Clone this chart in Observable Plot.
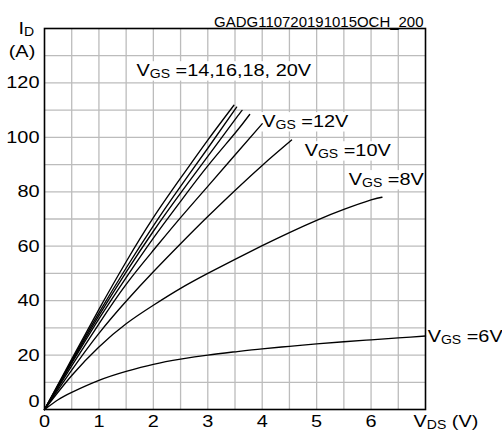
<!DOCTYPE html>
<html><head><meta charset="utf-8">
<script src="https://cdn.jsdelivr.net/npm/d3@7"></script>
<script src="https://cdn.jsdelivr.net/npm/@observablehq/plot@0.6"></script>
<style>body{margin:0;background:#fff;}</style>
</head><body><div id="chart"></div>
<script>
const chartTitle = "GADG110720191015OCH_200";
const xTickValues = [0, 1, 2, 3, 4, 5, 6];
const yTickValues = [20, 40, 60, 80, 100, 120];
const xGridValues = [0.5, 1, 1.5, 2, 2.5, 3, 3.5, 4, 4.5, 5, 5.5, 6, 6.5];
const yGridValues = [10, 20, 30, 40, 50, 60, 70, 80, 90, 100, 110, 120, 130];

// I_D (A) vs V_DS (V) for each V_GS
const vds6 = [0, 0.25, 0.5, 1, 1.5, 2, 2.5, 3, 3.5, 4, 4.5, 5, 5.5, 6, 6.5, 7];
const id6  = [0, 3.6, 6.3, 10.7, 14.0, 16.6, 18.5, 20.0, 21.2, 22.3, 23.2, 24.1, 24.9, 25.6, 26.3, 27.0];
const vds8 = [0, 0.5, 1, 1.5, 2, 2.5, 3, 3.5, 4, 4.5, 5, 5.5, 6, 6.2];
const id8  = [0, 12.5, 23, 31.5, 38.3, 44.5, 50, 55.2, 60.2, 65, 69.5, 73.5, 77, 78];
const vds10 = [0, 0.5, 1, 1.5, 2, 2.5, 3, 3.5, 4, 4.54];
const id10  = [0, 14.5, 28, 39.8, 50.6, 60.9, 70.9, 80.5, 89.7, 99];
const vds12 = [0, 0.5, 1, 1.5, 2, 2.5, 3, 3.5, 4];
const id12  = [0, 16, 31.5, 46, 58.5, 70.5, 82, 93.5, 105];
const vds14 = [0, 0.5, 1, 1.5, 2, 2.5, 3, 3.5, 3.77];
const id14  = [0, 17, 33.3, 48.5, 63, 76.5, 89.5, 101.5, 108.4];
const vds16 = [0, 0.5, 1, 1.5, 2, 2.5, 3, 3.5, 3.63];
const id16  = [0, 17.5, 34.5, 50.5, 65.5, 79.5, 93, 106.5, 109.9];
const vds18 = [0, 0.5, 1, 1.5, 2, 2.5, 3, 3.53];
const id18  = [0, 18, 35.5, 52, 67.5, 82, 96, 111.1];
const vds20 = [0, 0.5, 1, 1.5, 2, 2.5, 3, 3.48];
const id20  = [0, 18.5, 36.8, 54.3, 70.5, 85, 99, 111.8];

const seriesNames = ["6V", "8V", "10V", "12V", "14V", "16V", "18V", "20V"];
const seriesX = [vds6, vds8, vds10, vds12, vds14, vds16, vds18, vds20];
const seriesY = [id6, id8, id10, id12, id14, id16, id18, id20];

// curve labels (anchor in data units: V_DS, I_D)
const labelTexts = ["V_{GS} =14,16,18, 20V", "V_{GS} =12V", "V_{GS} =10V", "V_{GS} =8V", "V_{GS} =6V"];
const labelVds = [1.69, 4.0, 4.78, 5.59, 7.04];
const labelId  = [124.6, 105.9, 95.2, 84.6, 26.8];

const points = seriesNames.flatMap((name, k) =>
  seriesX[k].map((v, i) => ({series: name, vds: v, id: seriesY[k][i]})));
const labels = labelTexts.map((t, i) => ({text: t, vds: labelVds[i], id: labelId[i]}));

const chart = Plot.plot({
  width: 502, height: 432,
  marginLeft: 44, marginRight: 77, marginTop: 28, marginBottom: 23,
  x: {domain: [0, 7], axis: null},
  y: {domain: [0, 140], axis: null},
  style: {fontFamily: "'Liberation Sans', Arial, sans-serif", fontSize: "17px", color: "black", background: "white", overflow: "visible"},
  marks: [
    Plot.ruleX(xGridValues, {stroke: "#bcbcbc", strokeWidth: 1.3}),
    Plot.ruleY(yGridValues, {stroke: "#bcbcbc", strokeWidth: 1.3}),
    Plot.text(labels, {x: "vds", y: "id", text: "text", textAnchor: "start", fill: "black", fontSize: 17}),
    Plot.line(points, {x: "vds", y: "id", z: "series", stroke: "black", strokeWidth: 1.35, curve: "natural"}),
    Plot.frame({stroke: "black", strokeWidth: 1.6}),
    Plot.text(yTickValues, {x: 0, y: d => d, text: d => String(d), textAnchor: "end", dx: -5, fill: "black"}),
    Plot.text(["0"], {x: 0, y: 0, textAnchor: "end", dx: -5, dy: -8, fill: "black"}),
    Plot.text(xTickValues, {x: d => d, y: 0, text: d => String(d), dy: 12, fill: "black"}),
    Plot.text(["V_{DS} (V)"], {x: 7, y: 0, textAnchor: "start", dx: -12, dy: 12, fill: "black"}),
    Plot.text(["I_{D}"], {frameAnchor: "top-left", textAnchor: "start", dx: -26, dy: -6.5, fill: "black"}),
    Plot.text(["(A)"], {frameAnchor: "top-left", textAnchor: "middle", dx: -22.5, dy: 16, fill: "black"}),
    Plot.text([chartTitle], {frameAnchor: "top-right", textAnchor: "end", dx: -2, dy: -11, fontSize: 14, fill: "black"})
  ]
});
document.getElementById("chart").append(chart);

// subscripts, horizontal stretch, white label boxes
const NS = "http://www.w3.org/2000/svg";
chart.querySelectorAll("text").forEach(t => {
  const s = t.textContent;
  const isTitle = s === chartTitle;
  if (s.includes("_{")) {
    t.textContent = "";
    const parts = s.split(/(_\{[^}]*\})/).filter(p => p.length);
    let shifted = false;
    parts.forEach(p => {
      const ts = document.createElementNS(NS, "tspan");
      if (p.startsWith("_{")) {
        ts.textContent = p.slice(2, -1);
        ts.setAttribute("font-size", "12");
        ts.setAttribute("dy", "2");
        shifted = true;
      } else {
        ts.textContent = p;
        if (shifted) { ts.setAttribute("dy", "-2"); shifted = false; }
      }
      t.appendChild(ts);
    });
  }
  const tr = t.getAttribute("transform") || "";
  t.setAttribute("transform", tr + (isTitle ? " scale(1.07,1)" : " scale(1.17,1)"));
  if (s.includes("GS")) {
    const b = t.getBBox();
    const r = document.createElementNS(NS, "rect");
    r.setAttribute("x", b.x - 2.5);
    r.setAttribute("y", b.y + 1);
    r.setAttribute("width", b.width + 5);
    r.setAttribute("height", b.height - 1);
    r.setAttribute("fill", "white");
    r.setAttribute("stroke", "none");
    r.setAttribute("transform", t.getAttribute("transform"));
    t.parentNode.insertBefore(r, t);
  }
});
</script>
</body></html>
